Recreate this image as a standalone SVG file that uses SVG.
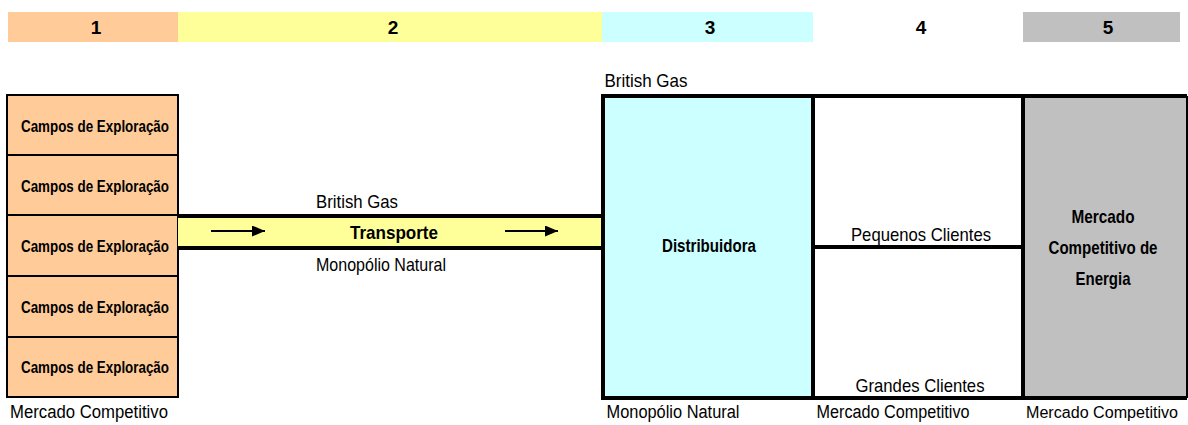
<svg xmlns="http://www.w3.org/2000/svg" width="1188" height="425" viewBox="0 0 1188 425">
<style>
.t{font-family:"Liberation Sans",Arial,sans-serif;fill:#000;text-anchor:middle}
.b{font-weight:bold}
.c{font-size:17px;font-weight:bold}
.l{font-size:19px}
.f{font-size:18px}
.h{font-size:19px;font-weight:bold}
.thin{fill:none;stroke:#000;stroke-width:2}
.thick{fill:none;stroke:#000;stroke-width:4}
</style>
<defs>
<marker id="ah" markerWidth="13" markerHeight="11" refX="13" refY="5.5" orient="auto" markerUnits="userSpaceOnUse">
<path d="M0,0 L13,5.5 L0,11 Z" fill="#000"/>
</marker>
</defs>
<rect width="1188" height="425" fill="#fff"/>
<g id="header">
<rect x="8" y="12" width="170" height="30" fill="#FFCC99"/>
<rect x="178" y="12" width="424" height="30" fill="#FFFF99"/>
<rect x="602" y="12" width="211" height="30" fill="#CCFFFF"/>
<rect x="1023" y="12" width="157" height="30" fill="#C0C0C0"/>
<text class="t h" x="96" y="34">1</text>
<text class="t h" x="393" y="34">2</text>
<text class="t h" x="710" y="34">3</text>
<text class="t h" x="921" y="34">4</text>
<text class="t h" x="1108" y="34">5</text>
</g>
<g id="campos">
<rect x="7" y="95" width="171" height="302" fill="#FFCC99"/>
<rect x="7" y="95" width="171" height="302" class="thin"/>
<line x1="7" y1="155" x2="178" y2="155" class="thin"/>
<line x1="7" y1="215" x2="178" y2="215" class="thin"/>
<line x1="7" y1="276" x2="178" y2="276" class="thin"/>
<line x1="7" y1="337" x2="178" y2="337" class="thin"/>
<text class="t c" x="95" y="132" textLength="148" lengthAdjust="spacingAndGlyphs">Campos de Exploração</text>
<text class="t c" x="95" y="192" textLength="148" lengthAdjust="spacingAndGlyphs">Campos de Exploração</text>
<text class="t c" x="95" y="252" textLength="148" lengthAdjust="spacingAndGlyphs">Campos de Exploração</text>
<text class="t c" x="95" y="313" textLength="148" lengthAdjust="spacingAndGlyphs">Campos de Exploração</text>
<text class="t c" x="95" y="373" textLength="148" lengthAdjust="spacingAndGlyphs">Campos de Exploração</text>
<text class="t f" x="89" y="418" textLength="158" lengthAdjust="spacingAndGlyphs">Mercado Competitivo</text>
</g>
<g id="transporte">
<rect x="178" y="216" width="423" height="32" fill="#FFFF99"/>
<line x1="178" y1="216" x2="603" y2="216" class="thick"/>
<line x1="178" y1="248" x2="603" y2="248" class="thick"/>
<text class="t l" x="357" y="208" textLength="82" lengthAdjust="spacingAndGlyphs">British Gas</text>
<text class="t l b" x="394" y="239" textLength="88" lengthAdjust="spacingAndGlyphs">Transporte</text>
<text class="t l" x="381" y="271" textLength="130" lengthAdjust="spacingAndGlyphs">Monopólio Natural</text>
</g>
<g id="distribuidora">
<rect x="603" y="96" width="210" height="302" fill="#CCFFFF"/>
<text class="t l" x="646" y="87" textLength="83" lengthAdjust="spacingAndGlyphs">British Gas</text>
<text class="t l b" x="709" y="252" textLength="94" lengthAdjust="spacingAndGlyphs">Distribuidora</text>
<text class="t f" x="673" y="418" textLength="133" lengthAdjust="spacingAndGlyphs">Monopólio Natural</text>
</g>
<g id="clientes">
<text class="t l" x="921" y="241" textLength="140" lengthAdjust="spacingAndGlyphs">Pequenos Clientes</text>
<text class="t l" x="920" y="392" textLength="129" lengthAdjust="spacingAndGlyphs">Grandes Clientes</text>
<text class="t f" x="893" y="418" textLength="153" lengthAdjust="spacingAndGlyphs">Mercado Competitivo</text>
</g>
<g id="energia">
<rect x="1023" y="96" width="164" height="302" fill="#C0C0C0"/>
<text class="t l b" x="1103" y="223" textLength="63" lengthAdjust="spacingAndGlyphs">Mercado</text>
<text class="t l b" x="1103" y="254" textLength="109" lengthAdjust="spacingAndGlyphs">Competitivo de</text>
<text class="t l b" x="1103" y="285" textLength="55" lengthAdjust="spacingAndGlyphs">Energia</text>
<text class="t" style="font-size:16px" x="1102" y="418" textLength="152" lengthAdjust="spacingAndGlyphs">Mercado Competitivo</text>
</g>
<g id="frame">
<path d="M603,96 H1187 M603,398 H1187 M603,94 V400 M813,96 V398 M1023,96 V398 M813,247 H1023" class="thick"/>
<line x1="1187" y1="96" x2="1187" y2="398" class="thin"/>
</g>
<g id="connectors">
<line x1="211" y1="231" x2="265" y2="231" stroke="#000" stroke-width="2" marker-end="url(#ah)"/>
<line x1="505" y1="231" x2="558" y2="231" stroke="#000" stroke-width="2" marker-end="url(#ah)"/>
</g>
</svg>
